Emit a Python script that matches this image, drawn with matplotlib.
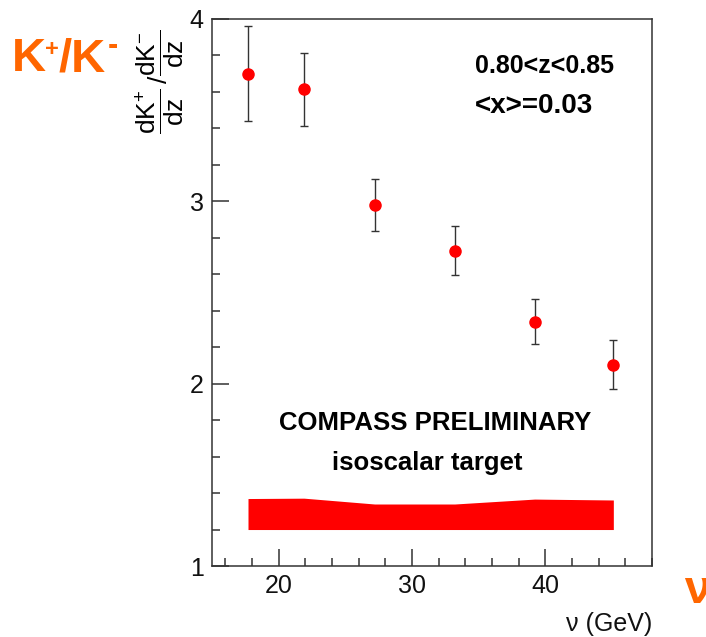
import matplotlib
matplotlib.use('Agg')
import matplotlib.pyplot as plt
from matplotlib.ticker import MultipleLocator

plt.rcParams['font.family'] = ['Liberation Sans', 'DejaVu Sans']
plt.rcParams['mathtext.fontset'] = 'custom'
plt.rcParams['mathtext.rm'] = 'Liberation Sans'
plt.rcParams['mathtext.it'] = 'Liberation Sans:italic'
plt.rcParams['mathtext.bf'] = 'Liberation Sans:bold'

# K+/K- multiplicity ratio vs nu
nu = [17.7, 21.9, 27.2, 33.2, 39.2, 45.1]
ratio = [3.70, 3.615, 2.98, 2.73, 2.34, 2.105]
stat_err = [0.26, 0.20, 0.14, 0.133, 0.123, 0.133]

# systematic band
sys_lo = [1.20, 1.20, 1.20, 1.20, 1.20, 1.20]
sys_hi = [1.370, 1.372, 1.340, 1.340, 1.367, 1.362]

orange = '#ff6600'

fig = plt.figure(figsize=(7.06, 6.37), dpi=100)
ax = fig.add_axes([212/706, 71/637, 440/706, 547/637])

ax.fill_between(nu, sys_lo, sys_hi, color='red', lw=0)
ax.errorbar(nu, ratio, yerr=stat_err, fmt='o', color='red', ms=8,
            ecolor='#333333', elinewidth=1.0, capsize=2.8, capthick=1.0)

ax.set_xlim(15, 48)
ax.set_ylim(1, 4)
ax.xaxis.set_major_locator(MultipleLocator(10))
ax.xaxis.set_minor_locator(MultipleLocator(2))
ax.yaxis.set_major_locator(MultipleLocator(1))
ax.yaxis.set_minor_locator(MultipleLocator(0.2))
ax.tick_params(which='both', direction='in', top=False, right=False,
               width=1.1, color='#333333', labelsize=18, labelcolor='#111111')
ax.tick_params(which='major', length=12, pad=6)
ax.tick_params(which='minor', length=6)
for sp in ax.spines.values():
    sp.set_linewidth(1.1)
    sp.set_color('#333333')

ax.set_xlabel(u'\u03bd (GeV)', fontsize=18, color='#111111', ha='right', x=1.0)
ax.xaxis.set_label_coords(1.0, -0.085)

# y title in ROOT style
fig.text(160/706, 1 - 82/637,
         r'$\dfrac{\mathrm{dK}^{+}}{\mathrm{dz}}\,/\dfrac{\mathrm{dK}^{-}}{\mathrm{dz}}$',
         rotation=90, ha='center', va='center', fontsize=19)

ax.text(0.755, 0.901, '0.80<z<0.85', transform=ax.transAxes, fontsize=18,
        fontweight='bold', ha='center', va='baseline')
ax.text(0.732, 0.828, '<x>=0.03', transform=ax.transAxes, fontsize=20,
        fontweight='bold', ha='center', va='baseline')
ax.text(0.507, 0.249, 'COMPASS PRELIMINARY', transform=ax.transAxes, fontsize=18.5,
        fontweight='bold', ha='center', va='baseline')
ax.text(0.49, 0.175, 'isoscalar target', transform=ax.transAxes, fontsize=18.5,
        fontweight='bold', ha='center', va='baseline')

# orange K+/K- tag, built from pieces so the charges sit as small superscripts
tag = dict(color=orange, fontweight='bold', ha='left', va='baseline')
fig.text(12/706, 1 - 71/637, 'K', fontsize=34, **tag)
fig.text(45/706, 1 - 56/637, '+', fontsize=17, **tag)
fig.text(59/706, 1 - 71/637, '/K', fontsize=34, **tag)
fig.text(108/706, 1 - 54/637, '-', fontsize=22, **tag)
fig.text(684/706, 1 - 603/637, u'\u03bd', color=orange, fontsize=34,
         fontweight='bold', ha='left', va='baseline')

fig.savefig('out.png', dpi=100)
